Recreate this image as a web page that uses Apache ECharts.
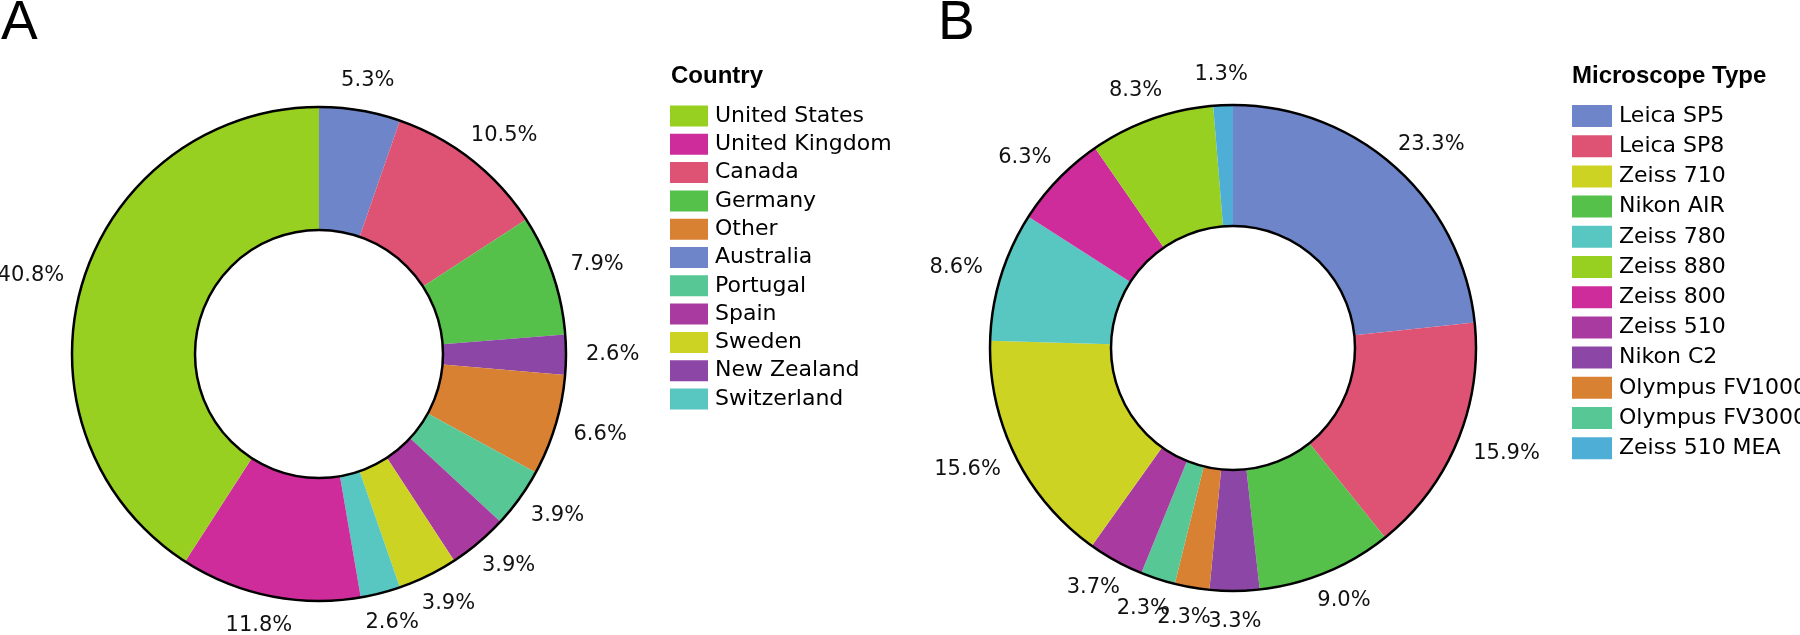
<!DOCTYPE html>
<html>
<head>
<meta charset="utf-8">
<script src="https://cdn.jsdelivr.net/npm/echarts@6/dist/echarts.min.js"></script>
<style>
  html, body { margin: 0; padding: 0; background: #fff; }
  #chart { width: 1800px; height: 635px; }
</style>
</head>
<body>
<div id="chart"></div>
<script>
// panel A: country, slices in clockwise order from 12 o'clock
const countryNames = ['Australia', 'Canada', 'Germany', 'New Zealand', 'Other', 'Portugal', 'Spain', 'Sweden', 'Switzerland', 'United Kingdom', 'United States']
const countryPct = [5.3, 10.5, 7.9, 2.6, 6.6, 3.9, 3.9, 3.9, 2.6, 11.8, 40.8]
const countryLegend = ['United States', 'United Kingdom', 'Canada', 'Germany', 'Other', 'Australia', 'Portugal', 'Spain', 'Sweden', 'New Zealand', 'Switzerland']

// panel B: microscope type
const scopeNames = ['Leica SP5', 'Leica SP8', 'Nikon AIR', 'Nikon C2', 'Olympus FV1000', 'Olympus FV3000', 'Zeiss 510', 'Zeiss 710', 'Zeiss 780', 'Zeiss 800', 'Zeiss 880', 'Zeiss 510 MEA']
const scopePct = [23.3, 15.9, 9.0, 3.3, 2.3, 2.3, 3.7, 15.6, 8.6, 6.3, 8.3, 1.3]
const scopeLegend = ['Leica SP5', 'Leica SP8', 'Zeiss 710', 'Nikon AIR', 'Zeiss 780', 'Zeiss 880', 'Zeiss 800', 'Zeiss 510', 'Nikon C2', 'Olympus FV1000', 'Olympus FV3000', 'Zeiss 510 MEA']

// colours
const colorMap = {
  'United States': '#98d022', 'Zeiss 880': '#98d022',
  'United Kingdom': '#ce2c9a', 'Zeiss 800': '#ce2c9a',
  'Canada': '#de5374', 'Leica SP8': '#de5374',
  'Germany': '#55c14a', 'Nikon AIR': '#55c14a',
  'Other': '#d98133', 'Olympus FV1000': '#d98133',
  'Australia': '#6e86c9', 'Leica SP5': '#6e86c9',
  'Portugal': '#56c795', 'Olympus FV3000': '#56c795',
  'Spain': '#a93ba0', 'Zeiss 510': '#a93ba0',
  'Sweden': '#cdd323', 'Zeiss 710': '#cdd323',
  'New Zealand': '#8c46a6', 'Nikon C2': '#8c46a6',
  'Switzerland': '#58c6c1', 'Zeiss 780': '#58c6c1',
  'Zeiss 510 MEA': '#4faed6',
}

const FONT = 'DejaVu Sans'
const LABEL_GAP = 20
const chart = echarts.init(document.getElementById('chart'), null, { renderer: 'canvas' })

// put the label box just outside the ring, touching a circle along the slice's mid direction
const touchLayout = (params) => {
  const pts = params.labelLinePoints
  if (!pts || pts.length < 2) return {}
  const dx = pts[1][0] - pts[0][0]
  const dy = pts[1][1] - pts[0][1]
  const len = Math.sqrt(dx * dx + dy * dy) || 1
  const ux = dx / len
  const uy = dy / len
  const w = params.labelRect.width
  const h = params.labelRect.height
  return {
    x: pts[0][0] + ux * LABEL_GAP + ux * w / 2,
    y: pts[0][1] + uy * LABEL_GAP + uy * h / 2,
    align: 'center',
    verticalAlign: 'middle',
  }
}

const donut = (names, values, center, radius) => ({
  type: 'pie',
  center: center,
  radius: radius,
  startAngle: 90,
  clockwise: true,
  avoidLabelOverlap: false,
  minShowLabelAngle: 0,
  silent: true,
  itemStyle: { borderWidth: 0 },
  label: {
    show: true,
    position: 'outside',
    color: '#111',
    fontFamily: FONT,
    fontSize: 21,
    formatter: (p) => p.value.toFixed(1) + '%',
  },
  labelLine: { show: true, length: 15, length2: 0, lineStyle: { opacity: 0 } },
  labelLayout: touchLayout,
  emphasis: { disabled: true },
  data: names.map((n, i) => ({ name: n, value: values[i], itemStyle: { color: colorMap[n] } })),
})

// black outline of the ring (outer + inner circle)
const outline = (center, radius) => ({
  type: 'pie',
  center: center,
  radius: radius,
  silent: true,
  z: 5,
  label: { show: false },
  labelLine: { show: false },
  emphasis: { disabled: true },
  itemStyle: { color: 'rgba(0,0,0,0)', borderColor: '#000', borderWidth: 2.5 },
  data: [{ name: '_ring', value: 1 }],
})

const legendBase = {
  orient: 'vertical',
  icon: 'rect',
  padding: 0,
  itemGap: 6.3,
  itemWidth: 38,
  itemHeight: 21,
  selectedMode: false,
  textStyle: { color: '#000', fontFamily: FONT, fontSize: 22, padding: [0, 0, 0, 2] },
}

const panelTitle = { fontFamily: 'Liberation Sans', fontWeight: 'normal', fontSize: 55, color: '#000' }
const legendTitle = { fontFamily: 'Liberation Sans', fontWeight: 'bold', fontSize: 24, color: '#000' }

chart.setOption({
  backgroundColor: '#fff',
  animation: false,
  title: [
    { text: 'A', left: 1, top: -4, padding: 0, textStyle: panelTitle },
    { text: 'B', left: 938, top: -4, padding: 0, textStyle: panelTitle },
    { text: 'Country', left: 671, top: 64, padding: 0, textStyle: legendTitle },
    { text: 'Microscope Type', left: 1572, top: 64, padding: 0, textStyle: legendTitle },
  ],
  legend: [
    Object.assign({}, legendBase, { left: 670, top: 105, data: countryLegend }),
    Object.assign({}, legendBase, { left: 1572, top: 105, itemGap: 8.2, itemWidth: 40, itemHeight: 22, data: scopeLegend }),
  ],
  series: [
    donut(countryNames, countryPct, [319, 354], [124, 247]),
    outline([319, 354], [124, 247]),
    donut(scopeNames, scopePct, [1233, 348], [122, 243]),
    outline([1233, 348], [122, 243]),
  ],
})
</script>
</body>
</html>
